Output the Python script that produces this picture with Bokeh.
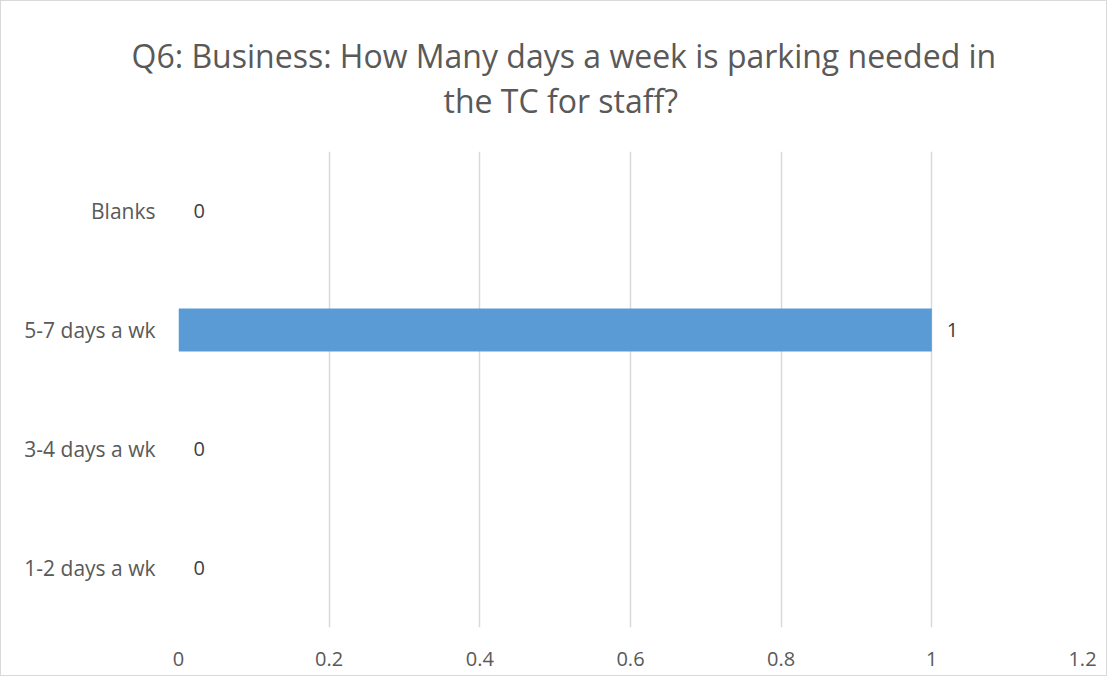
from bokeh.plotting import figure
from bokeh.models import FactorRange, Range1d, FixedTicker, ColumnDataSource, LabelSet, Title
from bokeh.core.properties import value
from bokeh.embed import file_html
from bokeh.resources import INLINE

categories = ["1-2 days a wk", "3-4 days a wk", "5-7 days a wk", "Blanks"]
values = [0, 0, 1, 0]
x_ticks = [0, 0.2, 0.4, 0.6, 0.8, 1.0, 1.2]
x_tick_labels = ["0", "0.2", "0.4", "0.6", "0.8", "1", "1.2"]
title_lines = ["Q6: Business: How Many days a week is parking needed in", "the TC for staff?"]

FONT = "Open Sans"
W, H = 1107, 676

p = figure(width=W, height=H, output_backend="svg", toolbar_location=None,
           y_range=FactorRange(*categories), x_range=Range1d(0, 1.2),
           min_border_left=177, min_border_right=26, min_border_top=150, min_border_bottom=50)
p.title = None
# spacer between frame and title
p.add_layout(Title(text=" ", text_font=FONT, text_font_size="21px", standoff=0), "above")
p.add_layout(Title(text=title_lines[1], align="left", offset=265, text_font=FONT,
                   text_font_size="32px", text_color="#595959", text_font_style="normal",
                   standoff=0), "above")
p.add_layout(Title(text=title_lines[0], align="left", offset=-47, text_font=FONT,
                   text_font_size="32px", text_color="#595959", text_font_style="normal",
                   standoff=0), "above")

src = ColumnDataSource(dict(cat=categories, val=values, lab=[str(v) for v in values]))
p.hbar(y="cat", right="val", left=0, height=0.36, source=src, color="#5B9BD5", line_color=None)

labels = LabelSet(x="val", y="cat", text="lab", source=src, x_offset=15, text_baseline="middle",
                  text_font=value(FONT), text_font_size=value("20px"), text_color="#404040")
p.add_layout(labels)

p.outline_line_color = None
p.background_fill_color = "white"
p.border_fill_color = "white"

p.xgrid.grid_line_color = "#d9d9d9"
p.xgrid.grid_line_width = 1.5
p.ygrid.grid_line_color = None

p.xaxis.ticker = FixedTicker(ticks=x_ticks)
p.xaxis.major_label_overrides = {t: l for t, l in zip(x_ticks, x_tick_labels)}
p.xaxis.axis_line_color = None
p.xaxis.major_tick_line_color = None
p.xaxis.minor_tick_line_color = None
p.xaxis.major_label_text_font = FONT
p.xaxis.major_label_text_font_size = "20px"
p.xaxis.major_label_text_color = "#595959"
p.xaxis.major_label_standoff = 18

p.yaxis.axis_line_color = None
p.yaxis.major_tick_line_color = None
p.yaxis.minor_tick_line_color = None
p.yaxis.major_label_text_font = FONT
p.yaxis.major_label_text_font_size = "21px"
p.yaxis.major_label_text_color = "#595959"
p.yaxis.major_label_standoff = 17

p.styles = {"border": "1.5px solid #d9d9d9"}

open("out.html", "w").write(file_html(p, INLINE))
